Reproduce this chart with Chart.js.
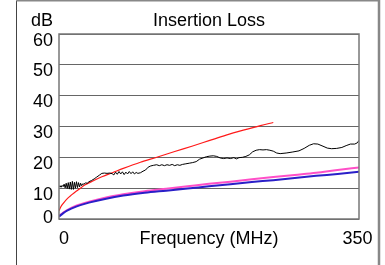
<!DOCTYPE html>
<html>
<head>
<meta charset="utf-8">
<script src="https://cdn.jsdelivr.net/npm/chart.js@4"></script>
<style>
    body { margin: 0; background: #fff; }
    #wrap { width: 385px; height: 265px; }
</style>
</head>
<body>
<div id="wrap"><canvas id="lossChart" width="385" height="265"></canvas></div>
<script>
// Axis ticks
const xTickValues = [0, 350];
const yTickValues = [0, 10, 20, 30, 40, 50, 60];

// Measured insertion loss (black)
const measuredFreq = [0, 1.2, 2.4, 3.6, 4.8, 6, 7.2, 8.4, 9.6, 10.8, 12, 13.2, 14.4, 15.6, 16.8, 18, 19.2, 20.4,
    21.6, 22.8, 24, 25.2, 26.4, 27.6, 29, 31, 33, 35, 38, 41, 44, 47, 50, 53, 56, 59, 62, 64, 66, 68, 70, 72, 74, 76,
    78, 80, 82, 84, 86, 88, 90, 92, 95, 98, 101, 104, 107, 110, 114, 117, 120, 123, 126, 129, 132, 135, 138, 141,
    144, 148, 152, 156, 160, 164, 168, 172, 176, 180, 184, 188, 192, 196, 200, 204, 207, 210, 214, 218, 222, 226,
    230, 234, 238, 242, 246, 250, 254, 258, 265, 272, 280, 286, 292, 297, 302, 308, 313, 318, 324, 330, 335, 340,
    345, 348, 350];
const measuredLoss = [10.4, 10.8, 10.3, 10.9, 10.5, 11.3, 10.1, 11.6, 9.9, 11.8, 9.7, 12.0, 9.6, 12.2, 9.6, 11.9, 10.0, 12.1,
    10.2, 11.8, 10.4, 11.6, 10.8, 11.4, 11.3, 11.7, 11.6, 12.1, 12.5, 13.0, 13.6, 14.2, 14.8, 14.9, 14.8, 14.9, 14.7, 14.3, 15.2, 14.5, 15.4, 14.6, 15.3, 14.4,
    15.2, 14.6, 15.4, 14.7, 15.3, 14.6, 15.1, 14.8, 15.0, 15.5, 15.9, 16.8, 17.2, 17.4, 17.6, 17.3, 17.6, 17.3, 17.6, 17.4, 17.7, 17.3, 17.6, 17.4,
    17.7, 17.9, 18.1, 18.3, 18.6, 19.4, 19.8, 20.2, 20.4, 20.5, 20.3, 19.8, 19.6, 19.8, 19.6, 19.9, 19.5, 19.9, 20.0, 20.3, 20.8, 21.8,
    22.3, 22.5, 22.4, 22.5, 22.3, 22.0, 21.4, 21.2, 21.4, 21.7, 22.1, 22.9, 23.9, 24.4, 24.3, 23.6, 23.0, 22.8, 22.9, 23.2, 23.8, 24.3,
    24.3, 24.7, 25.5];

// Limit line (red)
const redFreq = [0, 2, 5, 10, 15, 20, 25, 30, 40, 50, 63, 75, 95, 115, 135, 155, 175, 195, 215, 235, 250];
const redLoss = [2.7, 3.9, 5.1, 6.7, 7.9, 9.0, 10.0, 11.0, 12.4, 13.7, 15.1, 16.4, 18.4, 20.1, 21.9, 23.6, 25.4, 27.2, 28.8, 30.3, 31.3];

// Magenta and blue lines
const lowFreq = [0, 5, 10, 20, 35, 55, 75, 100, 125, 150, 175, 200, 225, 250, 275, 300, 325, 350];
const magentaLoss = [1.0, 2.1, 3.0, 4.3, 5.6, 7.0, 8.0, 9.0, 9.8, 10.6, 11.4, 12.1, 12.9, 13.6, 14.3, 15.0, 15.9, 16.7];
const blueLoss = [0.8, 1.9, 2.8, 4.0, 5.3, 6.6, 7.6, 8.5, 9.2, 9.9, 10.6, 11.3, 12.0, 12.6, 13.3, 14.0, 14.6, 15.3];

const FONT = '18px "Liberation Sans", Arial, Helvetica, sans-serif';

function toPoints(xs, ys) {
    return xs.map((x, i) => ({ x: x, y: ys[i] }));
}

// Frame, tick labels and titles
const decor = {
    id: 'decor',
    beforeDraw(chart) {
        const ctx = chart.ctx;
        ctx.save();
        ctx.fillStyle = '#fff';
        ctx.fillRect(0, 0, chart.width, chart.height);
        ctx.restore();
    },
    afterDraw(chart) {
        const { ctx, chartArea: a, scales } = chart;
        ctx.save();

        // plot border
        ctx.strokeStyle = '#777';
        ctx.lineWidth = 1.5;
        ctx.strokeRect(a.left, a.top, a.right - a.left, a.bottom - a.top);

        // outer frame
        ctx.strokeStyle = '#444';
        ctx.lineWidth = 1;
        ctx.beginPath();
        ctx.moveTo(16.5, chart.height);
        ctx.lineTo(16.5, 0.5);
        ctx.stroke();
        ctx.strokeStyle = '#888';
        ctx.lineWidth = 1.5;
        ctx.beginPath();
        ctx.moveTo(16.5, 0.75);
        ctx.lineTo(379, 0.75);
        ctx.stroke();
        ctx.lineWidth = 2.5;
        ctx.beginPath();
        ctx.moveTo(379, 0);
        ctx.lineTo(379, chart.height);
        ctx.stroke();

        ctx.font = FONT;
        ctx.fillStyle = '#000';
        ctx.textBaseline = 'alphabetic';

        // y tick labels
        ctx.textAlign = 'right';
        scales.y.ticks.forEach(t => {
            const py = scales.y.getPixelForValue(t.value);
            ctx.fillText(String(t.value), 53, Math.min(py + 11.5, a.bottom + 4));
        });
        ctx.fillText('dB', 53, 26);

        // x tick labels
        scales.x.ticks.forEach((t, i) => {
            const px = scales.x.getPixelForValue(t.value);
            ctx.textAlign = i === 0 ? 'left' : 'center';
            ctx.fillText(String(t.value), i === 0 ? px : px - 1.5, 244);
        });

        const mid = (a.left + a.right) / 2;
        ctx.textAlign = 'center';
        ctx.fillText('Insertion Loss', mid, 26);
        ctx.fillText('Frequency (MHz)', mid, 244);
        ctx.restore();
    }
};

const ctx = document.getElementById('lossChart').getContext('2d');
new Chart(ctx, {
    type: 'line',
    data: {
        datasets: [
            {
                label: 'Measured',
                data: toPoints(measuredFreq, measuredLoss),
                borderColor: '#000',
                borderWidth: 1,
                pointRadius: 0,
                tension: 0
            },
            {
                label: 'Limit',
                data: toPoints(redFreq, redLoss),
                borderColor: '#ff1a1a',
                borderWidth: 1.2,
                pointRadius: 0,
                cubicInterpolationMode: 'monotone'
            },
            {
                label: 'Blue',
                data: toPoints(lowFreq, blueLoss),
                borderColor: '#2a1fc8',
                borderWidth: 2,
                pointRadius: 0,
                cubicInterpolationMode: 'monotone'
            },
            {
                label: 'Magenta',
                data: toPoints(lowFreq, magentaLoss),
                borderColor: '#ff4fc8',
                borderWidth: 2,
                pointRadius: 0,
                cubicInterpolationMode: 'monotone'
            }
        ]
    },
    options: {
        responsive: false,
        animation: false,
        events: [],
        layout: { padding: { left: 59, right: 26, top: 34, bottom: 46 } },
        plugins: {
            legend: { display: false },
            title: { display: false },
            tooltip: { enabled: false }
        },
        scales: {
            x: {
                type: 'linear',
                min: 0,
                max: 350,
                afterBuildTicks: scale => { scale.ticks = xTickValues.map(v => ({ value: v })); },
                ticks: { display: false },
                grid: { display: false, drawTicks: false },
                border: { display: false }
            },
            y: {
                min: 0,
                max: 60,
                afterBuildTicks: scale => { scale.ticks = yTickValues.map(v => ({ value: v })); },
                ticks: { display: false },
                grid: { color: '#666', lineWidth: 1, drawTicks: false },
                border: { display: false }
            }
        }
    },
    plugins: [decor]
});
</script>
</body>
</html>
